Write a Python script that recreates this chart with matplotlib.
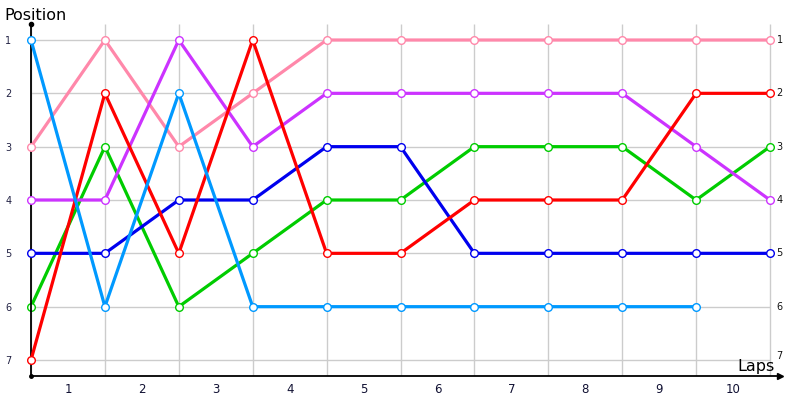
import matplotlib
matplotlib.use("Agg")
import matplotlib.pyplot as plt

# lap boundaries 0..10, position after each
pink = [3, 1, 3, 2, 1, 1, 1, 1, 1, 1, 1]
red = [7, 2, 5, 1, 5, 5, 4, 4, 4, 2, 2]
purple = [4, 4, 1, 3, 2, 2, 2, 2, 2, 3, 4]
blue = [5, 5, 4, 4, 3, 3, 5, 5, 5, 5, 5]
green = [6, 3, 6, 5, 4, 4, 3, 3, 3, 4, 3]
lightblue = [1, 6, 2, 6, 6, 6, 6, 6, 6, 6]   # retired after lap 9

positions = [1, 2, 3, 4, 5, 6, 7]
laps = [1, 2, 3, 4, 5, 6, 7, 8, 9, 10]

fig = plt.figure(figsize=(8, 4), dpi=100)
ax = fig.add_axes([31/800, 24/400, 749/800, 352/400])
ax.set_xlim(0, 749/73.9)
ax.set_ylim(7.3, 0.7)

# grid
ax.hlines(positions, 0, 10, color="#cccccc", lw=1, zorder=0)
ax.vlines(range(11), 7.3, 0.7, color="#cccccc", lw=1, zorder=0)

series = [
    (green, "#00cc00"),
    (pink, "#ff88aa"),
    (purple, "#cc33ff"),
    (blue, "#0000ee"),
    (red, "#ff0000"),
    (lightblue, "#0099ff"),
]
for i, (vals, col) in enumerate(series):
    ax.plot(range(len(vals)), vals, color=col, lw=2.3, marker="o",
            markersize=5.5, markerfacecolor="white", markeredgecolor=col,
            markeredgewidth=1.0, zorder=2 + i, clip_on=False)

for s in ["top", "right"]:
    ax.spines[s].set_visible(False)
ax.spines["left"].set_linewidth(1.3)
ax.spines["bottom"].set_linewidth(1.3)

ax.set_yticks(positions)
ax.set_yticklabels([str(p) for p in positions], fontsize=7, color="#222244")
ax.tick_params(axis="y", length=0, pad=14)
ax.set_xticks(range(11))
ax.set_xticklabels([])
ax.set_xticks([l - 0.5 for l in laps], minor=True)
ax.set_xticklabels([str(l) for l in laps], minor=True, fontsize=8.5, color="#111133")
ax.tick_params(axis="x", which="both", length=0, pad=5)

# right side position labels
for p in positions:
    dy = -0.08 if p == 7 else 0
    ax.text(10.09, p + dy, str(p), fontsize=7, va="center", ha="left", color="#111111")

# arrows at axis ends
ax.plot(1, 0, ">", color="k", markersize=5, transform=ax.transAxes, clip_on=False)
ax.plot(0, 1, "o", color="k", markersize=3, transform=ax.transAxes, clip_on=False)
ax.plot(0, 0, "o", color="k", markersize=2.5, transform=ax.transAxes, clip_on=False)

fig.text(4/800, 1 - 16/400, "Position", fontsize=11.5, va="center", ha="left")
fig.text(775/800, 1 - 366/400, "Laps", fontsize=11.5, va="center", ha="right")

fig.savefig("out.png", dpi=100)
